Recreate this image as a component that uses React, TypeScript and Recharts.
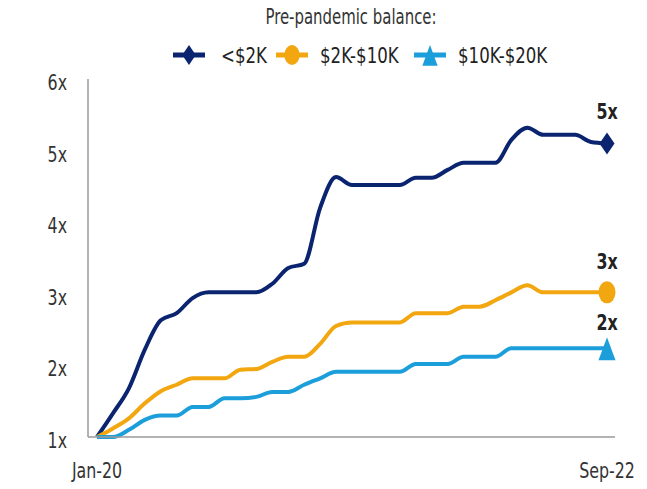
import React from "react";
import { LineChart, Line, XAxis, YAxis, Legend } from "recharts";

// monthly, Jan-20 .. Sep-22
const months = [
  "Jan-20", "Feb-20", "Mar-20", "Apr-20", "May-20", "Jun-20", "Jul-20", "Aug-20", "Sep-20", "Oct-20", "Nov-20", "Dec-20",
  "Jan-21", "Feb-21", "Mar-21", "Apr-21", "May-21", "Jun-21", "Jul-21", "Aug-21", "Sep-21", "Oct-21", "Nov-21", "Dec-21",
  "Jan-22", "Feb-22", "Mar-22", "Apr-22", "May-22", "Jun-22", "Jul-22", "Aug-22", "Sep-22",
];

const under2k = [
  1.0, 1.33, 1.68, 2.22, 2.63, 2.73, 2.94, 3.02, 3.02, 3.02, 3.02, 3.14,
  3.36, 3.42, 4.2, 4.63, 4.52, 4.52, 4.52, 4.52, 4.62, 4.62, 4.73, 4.83,
  4.83, 4.83, 5.15, 5.32, 5.22, 5.22, 5.22, 5.12, 5.1,
];
const from2kTo10k = [
  1.0, 1.12, 1.26, 1.47, 1.64, 1.73, 1.82, 1.82, 1.82, 1.94, 1.95, 2.05,
  2.12, 2.12, 2.3, 2.55, 2.6, 2.6, 2.6, 2.6, 2.73, 2.73, 2.73, 2.82,
  2.82, 2.91, 3.02, 3.12, 3.02, 3.02, 3.02, 3.02, 3.02,
];
const from10kTo20k = [
  1.0, 1.0, 1.1, 1.24, 1.3, 1.3, 1.42, 1.42, 1.54, 1.54, 1.56, 1.63,
  1.63, 1.73, 1.82, 1.91, 1.91, 1.91, 1.91, 1.91, 2.02, 2.02, 2.02, 2.12,
  2.12, 2.12, 2.24, 2.24, 2.24, 2.24, 2.24, 2.24, 2.24,
];

const yTicks = [1, 2, 3, 4, 5, 6];
const xTicks = ["Jan-20", "Sep-22"];
const endLabels = { a: "5x", b: "3x", c: "2x" };
const legendTitle = "Pre-pandemic balance:";

const NAVY = "#0B2470";
const GOLD = "#F2A60F";
const SKY = "#1C9EDB";
const FONT = "'DejaVu Sans Condensed', 'Liberation Sans', sans-serif";
const SQUEEZE = 0.8; // the original type is a tall condensed face

const data = months.map((m, i) => ({
  month: m,
  a: under2k[i],
  b: from2kTo10k[i],
  c: from10kTo20k[i],
}));
const last = data.length - 1;

function Marker({ kind, cx, cy, color, s = 1 }: { kind: string; cx: number; cy: number; color: string; s?: number }) {
  if (kind === "diamond")
    return (
      <polygon
        points={`${cx},${cy - 11 * s} ${cx + 7.5 * s},${cy} ${cx},${cy + 11 * s} ${cx - 7.5 * s},${cy}`}
        fill={color}
      />
    );
  if (kind === "circle") return <ellipse cx={cx} cy={cy} rx={8.5 * s} ry={11 * s} fill={color} />;
  return (
    <polygon
      points={`${cx},${cy - 11 * s} ${cx + 8.5 * s},${cy + 12 * s} ${cx - 8.5 * s},${cy + 12 * s}`}
      fill={color}
    />
  );
}

function SqText({ x, y, anchor, size, bold, fill, sx, children }: any) {
  return (
    <text
      transform={`translate(${x},${y}) scale(${sx ?? SQUEEZE},1)`}
      textAnchor={anchor}
      fontSize={size}
      fontWeight={bold ? "bold" : "normal"}
      fill={fill}
      fontFamily={FONT}
    >
      {children}
    </text>
  );
}

const series = [
  { key: "a", name: "<$2K", color: NAVY, marker: "diamond", labelGap: 24, lx: 189, tx: 221 },
  { key: "b", name: "$2K-$10K", color: GOLD, marker: "circle", labelGap: 23, lx: 292, tx: 320 },
  { key: "c", name: "$10K-$20K", color: SKY, marker: "triangle", labelGap: 18, lx: 430, tx: 458 },
];

function LegendBox() {
  return (
    <svg width={647} height={78} style={{ display: "block" }}>
      <SqText x={351} y={24} anchor="middle" size={21} fill="#333" sx={0.79}>
        {legendTitle}
      </SqText>
      {series.map((s) => (
        <g key={s.key}>
          <line x1={s.lx - 16} y1={55} x2={s.lx + 16} y2={55} stroke={s.color} strokeWidth={5} />
          <Marker kind={s.marker} cx={s.lx} cy={55} color={s.color} s={0.9} />
          <SqText x={s.tx} y={63} anchor="start" size={22} fill="#222" sx={0.84}>
            {s.name}
          </SqText>
        </g>
      ))}
    </svg>
  );
}

function YTick({ x, y, payload }: any) {
  return (
    <SqText x={x} y={y + 11} anchor="end" size={22} fill="#333">
      {`${payload.value}x`}
    </SqText>
  );
}

function XTick({ x, y, payload }: any) {
  return (
    <SqText x={x} y={y + 35} anchor="middle" size={22} fill="#333">
      {payload.value}
    </SqText>
  );
}

export default function App() {
  return (
    <div style={{ position: "absolute", left: 0, top: 0, width: 647, height: 489, background: "#fff" }}>
      <LineChart width={647} height={489} data={data} margin={{ top: 1, right: 32, left: 0, bottom: 0 }}>
        <Legend
          verticalAlign="top"
          content={() => <LegendBox />}
          wrapperStyle={{ top: 0, left: 0, width: 647, height: 78 }}
        />
        <XAxis
          dataKey="month"
          ticks={xTicks}
          interval={0}
          tickLine={false}
          axisLine={{ stroke: "#9a9a9a", strokeWidth: 1.5 }}
          padding={{ left: 9, right: 8 }}
          height={52}
          tickMargin={0}
          tick={<XTick />}
        />
        <YAxis
          domain={[1, 6]}
          ticks={yTicks}
          tickLine={false}
          axisLine={{ stroke: "#9a9a9a", strokeWidth: 1.5 }}
          width={88}
          tickMargin={15}
          tick={<YTick />}
        />
        {series.map((s) => (
          <Line
            key={s.key}
            type="monotone"
            dataKey={s.key}
            stroke={s.color}
            strokeWidth={4}
            isAnimationActive={false}
            dot={(p: any) =>
              p.index === last ? (
                <Marker key={`m-${s.key}`} kind={s.marker} cx={p.cx} cy={p.cy} color={s.color} />
              ) : (
                <g key={`d-${s.key}-${p.index}`} />
              )
            }
            activeDot={false}
            label={(p: any) =>
              p.index === last ? (
                <g key={`l-${s.key}`}>
                  <SqText x={p.x} y={p.y - s.labelGap} anchor="middle" size={22} bold fill="#222">
                    {endLabels[s.key as keyof typeof endLabels]}
                  </SqText>
                </g>
              ) : (
                <g key={`e-${s.key}-${p.index}`} />
              )
            }
          />
        ))}
      </LineChart>
    </div>
  );
}
